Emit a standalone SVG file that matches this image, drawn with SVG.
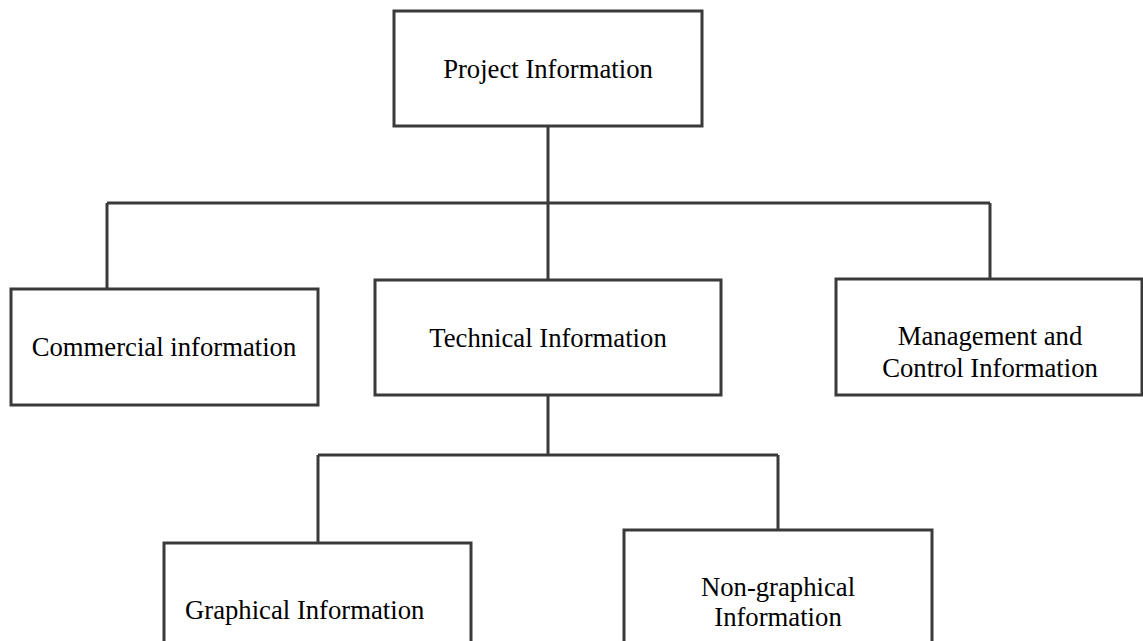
<svg xmlns="http://www.w3.org/2000/svg" width="1143" height="641" viewBox="0 0 1143 641">
<style>
.box{fill:#fff;stroke:#3a3a3a;stroke-width:3}
.ln{fill:none;stroke:#3a3a3a;stroke-width:3}
.t{font-family:"Liberation Serif","Times New Roman",serif;font-size:26.7px;fill:#000;text-anchor:middle}
</style>
<rect width="1143" height="641" fill="#fff"/>
<g id="connectors">
<path class="ln" d="M548 126 V293 M107 203 H990 M107 203 V289 M990 203 V279"/>
<path class="ln" d="M548 395 V455 M318 455 H778 M318 455 V543 M778 455 V530"/>
</g>
<g id="project"><rect class="box" x="394" y="11" width="308" height="115"/><text class="t" x="548" y="78">Project Information</text></g>
<g id="commercial"><rect class="box" x="11" y="289" width="307" height="116"/><text class="t" x="164" y="356">Commercial information</text></g>
<g id="technical"><rect class="box" x="375" y="280" width="346" height="115"/><text class="t" x="548" y="347">Technical Information</text></g>
<g id="management"><rect class="box" x="836" y="279" width="306" height="116"/><text class="t" x="990" y="345">Management and</text><text class="t" x="990" y="377">Control Information</text></g>
<g id="graphical"><rect class="box" x="164" y="543" width="307" height="120"/><text class="t" x="185" y="619" style="text-anchor:start">Graphical Information</text></g>
<g id="nongraphical"><rect class="box" x="624" y="530" width="308" height="130"/><text class="t" x="778" y="596">Non-graphical</text><text class="t" x="778" y="626">Information</text></g>
</svg>
